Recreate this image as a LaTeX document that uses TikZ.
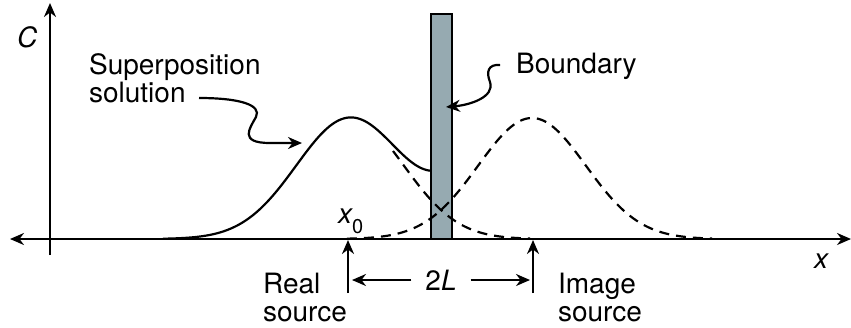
\documentclass[tikz,border=0pt]{standalone}
\usepackage{fontspec}
\setmainfont{TeX Gyre Heros}
\usetikzlibrary{arrows.meta}
\definecolor{bndfill}{RGB}{150,170,177}
\begin{document}
\begin{tikzpicture}[x=0.5pt,y=-0.5pt,line width=1.1pt,
  tip/.style={-{Stealth[length=7pt,width=6pt]}},
  lbl/.style={font=\fontsize{14}{14}\selectfont,inner sep=0pt},
  dsh/.style={dash pattern=on 5pt off 3.5pt}]
\useasboundingbox (0,0) rectangle (851,327);
% axes
\coordinate (xl) at (10,239);
\coordinate (xr) at (851,239);
\coordinate (yb) at (50,255);
\coordinate (yt) at (50,3);
\draw[{Stealth[length=7pt,width=6pt]}-{Stealth[length=7pt,width=6pt]}] (xl) -- (xr);
\draw[tip] (yb) -- (yt);
% boundary
\node[draw,fill=bndfill,minimum width=10.5pt,minimum height=112.5pt,inner sep=0pt] (bnd) at (441.5,126.5) {};
% curves
\draw[line join=round] plot[domain=163:431,samples=120] (\x,{239-121*(exp(-0.5*((\x-350)/53.85)^2)+1.4*exp(-0.5*((\x-532)/53.85)^2))});
\draw[dsh] plot[domain=393:530,samples=80] (\x,{239-121*exp(-0.5*((\x-350)/53.85)^2)});
\draw[dsh] plot[domain=347:712,samples=150] (\x,{239-121*exp(-0.5*((\x-532)/53.85)^2)});
% labels
\node[lbl,anchor=base west] (cl) at (16,47) {\itshape C};
\node[lbl,anchor=base west] (xlab) at (813,268) {\itshape x};
\node[lbl,anchor=base west] (x0) at (337,223) {{\itshape x}\raisebox{-5pt}{\fontsize{10}{10}\selectfont 0}};
\node[lbl,anchor=north west,align=left] (sup) at (88,52) {Superposition\\solution};
\node[lbl,anchor=base west] (bl) at (515,73) {Boundary};
\node[lbl,anchor=north west,align=left] (real) at (262,272) {Real\\source};
\node[lbl,anchor=north west,align=left] (img) at (557,272) {Image\\source};
\node[lbl,inner xsep=6.5pt] (twoL) at (441,280) {2\textit{L}};
% label arrows
\coordinate (supend) at (302,143);
\draw[tip] (199,98) .. controls (240,98) and (262,105) .. (256,117)
  .. controls (250,128) and (238,143) .. (270,143) -- (supend);
\coordinate (bndend) at (446,107);
\draw[tip] (500,65) .. controls (488,64) and (486,72) .. (490,82)
  .. controls (495,97) and (470,105) .. (bndend);
\coordinate (rs0) at (348,293);
\coordinate (rs1) at (348,240);
\coordinate (is0) at (533,293);
\coordinate (is1) at (533,240);
\draw[tip] (rs0) -- (rs1);
\draw[tip] (is0) -- (is1);
\coordinate (dl) at (352,280);
\coordinate (dr) at (530,280);
\draw[tip] (twoL.west) -- (dl);
\draw[tip] (twoL.east) -- (dr);
\end{tikzpicture}
\end{document}
